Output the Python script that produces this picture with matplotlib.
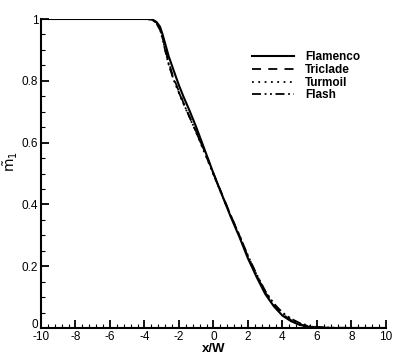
import matplotlib
matplotlib.use("Agg")
import matplotlib.pyplot as plt
from matplotlib.ticker import MultipleLocator
from matplotlib.transforms import ScaledTranslation

plt.rcParams['font.family'] = ['Liberation Sans', 'DejaVu Sans']

# x/W positions
x_flamenco = [-10, -3.8, -3.5, -3.3, -3.1, -2.95, -2.8, -2.6, -2.35, -2.0, -1.75, -1.4, -1.0, -0.5, 0.0,
              0.5, 1.0, 1.5, 2.0, 2.5, 3.0, 3.5, 4.0, 4.5, 5.0, 5.5, 6.0, 7.0, 10]
m_flamenco = [1.0, 1.0, 0.997, 0.99, 0.975, 0.95, 0.92, 0.88, 0.84, 0.785, 0.75, 0.705, 0.65, 0.575, 0.5,
              0.43, 0.36, 0.295, 0.225, 0.165, 0.11, 0.07, 0.04, 0.022, 0.01, 0.004, 0.001, 0.0, 0.0]

x_triclade = [-10, -3.8, -3.5, -3.3, -3.1, -2.95, -2.8, -2.6, -2.35, -2.0, -1.75, -1.4, -1.0, -0.5, 0.0,
              0.5, 1.0, 1.5, 2.0, 2.5, 3.0, 3.5, 4.0, 4.5, 5.0, 5.5, 6.0, 7.0, 10]
m_triclade = [1.0, 1.0, 0.996, 0.988, 0.97, 0.94, 0.905, 0.86, 0.815, 0.765, 0.73, 0.685, 0.635, 0.57, 0.5,
              0.432, 0.365, 0.3, 0.23, 0.17, 0.115, 0.074, 0.045, 0.025, 0.012, 0.005, 0.002, 0.0, 0.0]

x_turmoil = [-10, -3.8, -3.5, -3.3, -3.1, -2.95, -2.8, -2.6, -2.35, -2.0, -1.75, -1.4, -1.0, -0.5, 0.0,
             0.5, 1.0, 1.5, 2.0, 2.5, 3.0, 3.5, 4.0, 4.5, 5.0, 5.5, 6.0, 7.0, 10]
m_turmoil = [1.0, 1.0, 0.996, 0.987, 0.968, 0.938, 0.9, 0.855, 0.81, 0.76, 0.727, 0.683, 0.632, 0.565,
             0.496, 0.428, 0.362, 0.298, 0.232, 0.172, 0.118, 0.077, 0.048, 0.028, 0.014, 0.006, 0.002,
             0.0, 0.0]

x_flash = [-10, -3.8, -3.5, -3.3, -3.1, -2.95, -2.8, -2.6, -2.35, -2.0, -1.75, -1.4, -1.0, -0.5, 0.0,
           0.5, 1.0, 1.5, 2.0, 2.5, 3.0, 3.5, 4.0, 4.5, 5.0, 5.5, 6.0, 7.0, 10]
m_flash = [1.0, 1.0, 0.995, 0.985, 0.965, 0.935, 0.898, 0.853, 0.81, 0.762, 0.728, 0.684, 0.634, 0.567,
           0.498, 0.43, 0.364, 0.3, 0.234, 0.174, 0.12, 0.079, 0.05, 0.03, 0.016, 0.008, 0.003, 0.001, 0.0]

fig = plt.figure(figsize=(4.07, 3.62), dpi=100)
ax = fig.add_axes([0.1007, 0.0939, 0.8477, 0.8536])

ax.plot(x_flamenco, m_flamenco, color='black', lw=1.5, ls='-', label='Flamenco')
ax.plot(x_triclade, m_triclade, color='black', lw=1.3, ls=(0, (5, 4)), label='Triclade')
ax.plot(x_turmoil, m_turmoil, color='black', lw=1.3, ls=(0, (1, 2.5)), label='Turmoil')
ax.plot(x_flash, m_flash, color='black', lw=1.3, ls=(0, (5, 2, 1, 2, 1, 2)), label='Flash')

ax.set_xlim(-10, 10)
ax.set_ylim(0, 1)
ax.spines['top'].set_visible(False)
ax.spines['right'].set_visible(False)
ax.spines['left'].set_linewidth(1.5)
ax.spines['bottom'].set_linewidth(1.5)

ax.xaxis.set_major_locator(MultipleLocator(2))
ax.xaxis.set_minor_locator(MultipleLocator(0.4))
ax.yaxis.set_major_locator(MultipleLocator(0.2))
ax.yaxis.set_minor_locator(MultipleLocator(0.05))
ax.tick_params(which='major', direction='in', length=6, width=1.3, labelsize=8.5, pad=2)
ax.tick_params(which='minor', direction='in', length=3, width=0.8)
ax.set_xticks([-10, -8, -6, -4, -2, 0, 2, 4, 6, 8, 10])
ax.set_xticklabels(['-10', '-8', '-6', '-4', '-2', '0', '2', '4', '6', '8', '10'])
ax.set_yticks([0, 0.2, 0.4, 0.6, 0.8, 1])
ax.set_yticklabels(['0', '0.2', '0.4', '0.6', '0.8', '1'])
# the "0" on the y axis sits a little above the axis line
lab0 = ax.get_yticklabels()[0]
lab0.set_transform(lab0.get_transform() + ScaledTranslation(0, 3 / 72, fig.dpi_scale_trans))

ax.set_xlabel('x/W', fontsize=9.5, fontweight='bold', labelpad=0)
fig.text(11 / 407, 1 - 162 / 362, r'$\tilde{\mathrm{m}}_1$', fontsize=10, rotation=90,
         ha='center', va='center')

leg = ax.legend(loc='upper left', bbox_to_anchor=(0.58, 0.93), frameon=False,
                prop={'weight': 'bold', 'size': 8.5}, handlelength=3.6,
                handletextpad=0.9, labelspacing=0.06)

fig.savefig('out.png', dpi=100)
